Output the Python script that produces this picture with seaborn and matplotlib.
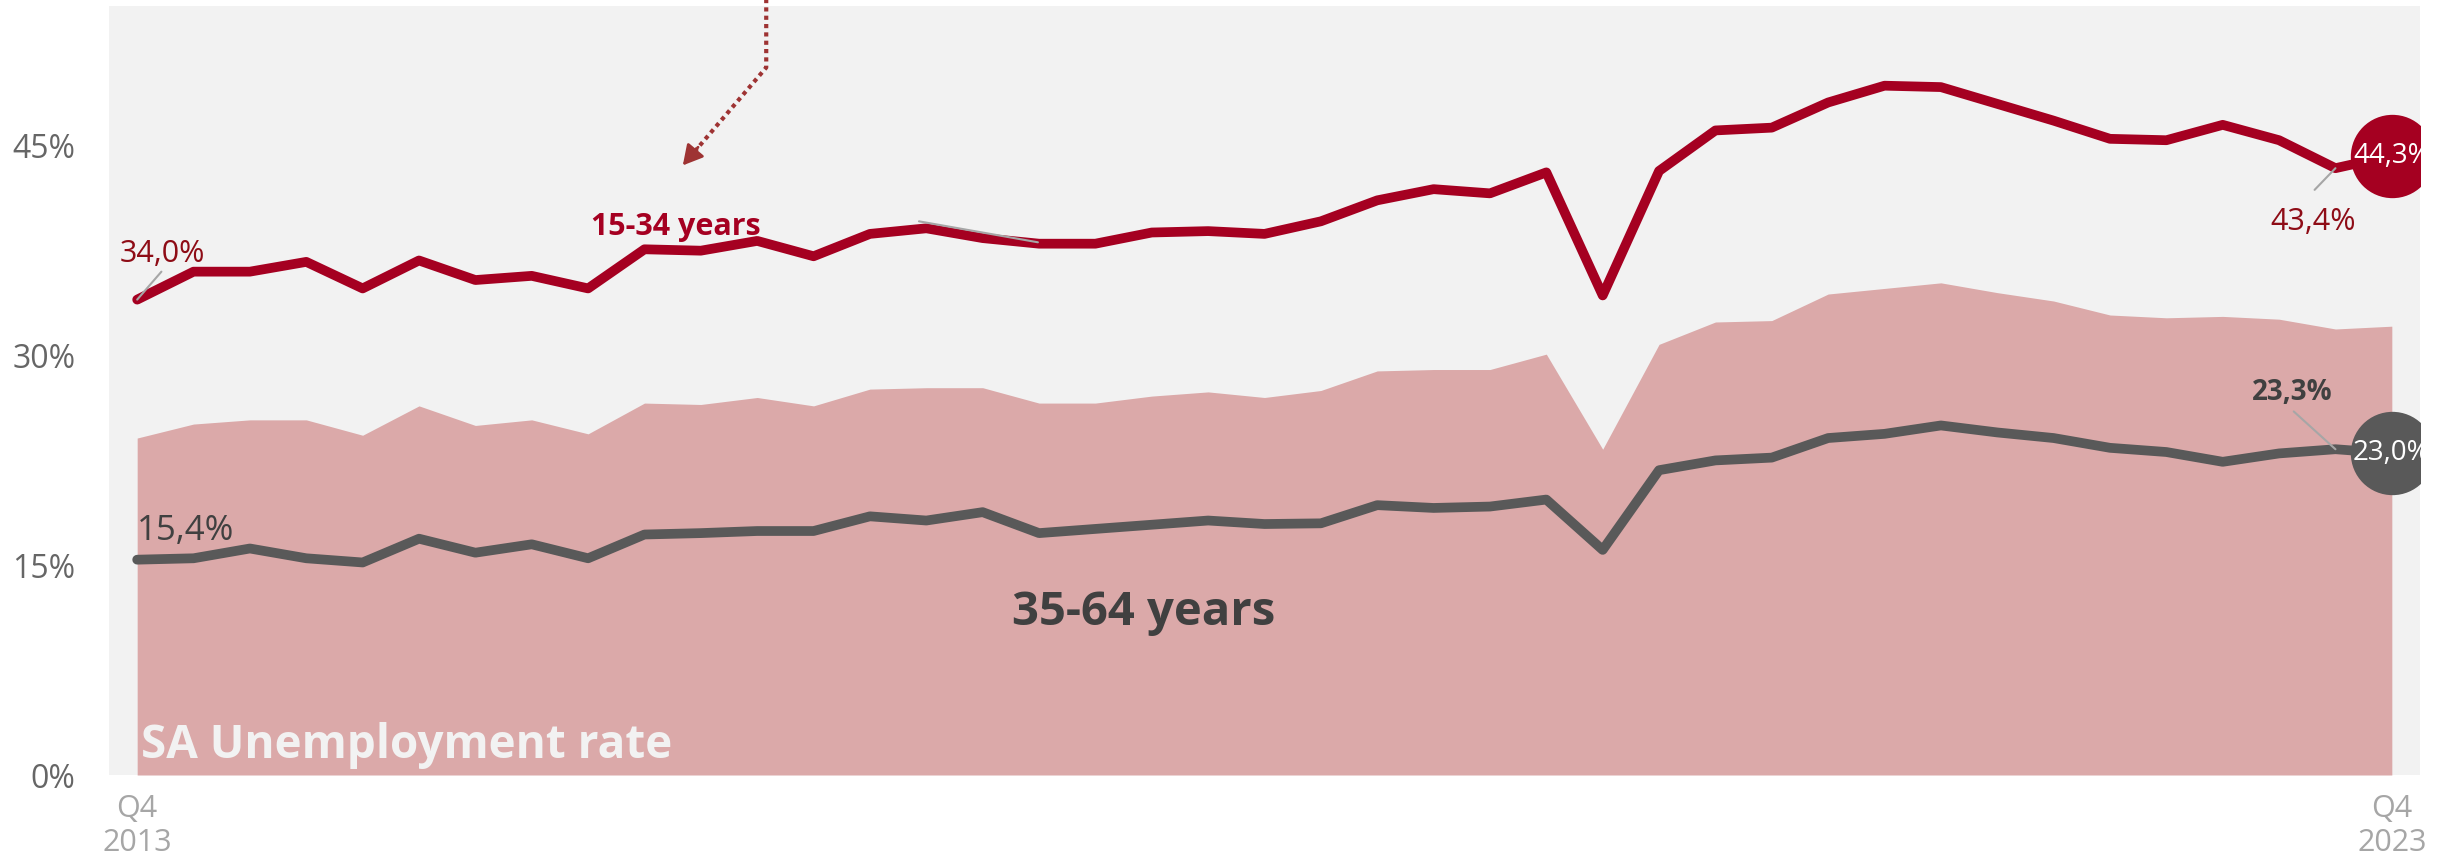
import pandas as pd
import matplotlib.pyplot as plt
import seaborn as sns

sns.set_theme(style="white")
plt.rcParams['font.family'] = ['Open Sans', 'DejaVu Sans']

# quarterly data, Q4 2013 .. Q4 2023
quarters = [str(p) for p in pd.period_range('2013Q4', '2023Q4', freq='Q')]

youth_15_34 = [34.0, 36.0, 36.0, 36.7, 34.8, 36.8, 35.4, 35.7, 34.8, 37.6,
               37.5, 38.2, 37.1, 38.7, 39.1, 38.4, 38.0, 38.0, 38.8, 38.9,
               38.7, 39.6, 41.1, 41.9, 41.6, 43.1, 34.3, 43.2, 46.1, 46.3,
               48.1, 49.3, 49.2, 48.0, 46.8, 45.5, 45.4, 46.5, 45.4, 43.4,
               44.3]

adults_35_64 = [15.4, 15.5, 16.2, 15.5, 15.2, 16.9, 15.9, 16.5, 15.5, 17.2,
                17.3, 17.45, 17.45, 18.5, 18.2, 18.8, 17.3, 17.6, 17.9, 18.2,
                17.95, 18.0, 19.3, 19.1, 19.2, 19.7, 16.1, 21.8, 22.5, 22.7,
                24.1, 24.4, 25.0, 24.5, 24.1, 23.4, 23.1, 22.4, 23.0, 23.3,
                23.0]

sa_total = [24.1, 25.1, 25.4, 25.4, 24.3, 26.4, 25.0, 25.4, 24.4, 26.6,
            26.5, 27.0, 26.4, 27.6, 27.7, 27.7, 26.6, 26.6, 27.1, 27.4,
            27.0, 27.5, 28.9, 29.0, 29.0, 30.1, 23.3, 30.8, 32.4, 32.5,
            34.4, 34.8, 35.2, 34.5, 33.9, 32.9, 32.7, 32.8, 32.6, 31.9,
            32.1]

y_ticks = [0, 15, 30, 45]
y_tick_labels = ['0%', '15%', '30%', '45%']
x_tick_labels = ['Q4\n2013', 'Q4\n2023']

RED = '#A50021'
DARK_RED = '#8E0C16'
GREY = '#595959'
AREA = '#DBA9A9'
BG = '#F2F2F2'
LEADER = '#A6A6A6'


def fmt(v):
    return f"{v:.1f}%".replace('.', ',')


df = pd.DataFrame({
    'quarter': quarters,
    'pos': range(len(quarters)),
    'youth': youth_15_34,
    'adults': adults_35_64,
    'total': sa_total,
})
last = df['pos'].iloc[-1]

fig = plt.figure(figsize=(24.53, 8.63), dpi=100)
ax = fig.add_axes([109 / 2453, 88 / 863, 2311 / 2453, 769 / 863])
ax.set_facecolor(BG)

# overall rate as area
ax.fill_between(df['pos'], 0, df['total'], color=AREA, linewidth=0, zorder=1)

# age group lines
sns.lineplot(data=df, x='pos', y='adults', color=GREY, linewidth=7,
             solid_capstyle='round', ax=ax, zorder=3)
sns.lineplot(data=df, x='pos', y='youth', color=RED, linewidth=7,
             solid_capstyle='round', ax=ax, zorder=4)

# end markers
ax.scatter([last], [df['youth'].iloc[-1]], s=3600, color=RED, zorder=6, linewidths=0)
ax.scatter([last], [df['adults'].iloc[-1]], s=3600, color=GREY, zorder=6, linewidths=0)
ax.text(last, df['youth'].iloc[-1], fmt(df['youth'].iloc[-1]), color='white',
        fontsize=20, ha='center', va='center', zorder=7)
ax.text(last, df['adults'].iloc[-1], fmt(df['adults'].iloc[-1]), color='white',
        fontsize=20, ha='center', va='center', zorder=7)

# data labels with leader lines
ax.plot([0.43, 0], [36.0, df['youth'].iloc[0]], color=LEADER, lw=1.5, zorder=5)
ax.text(-0.31, 36.7, fmt(df['youth'].iloc[0]), color=DARK_RED, fontsize=22,
        ha='left', va='baseline', zorder=7)
ax.text(0, 16.8, fmt(df['adults'].iloc[0]), color='#404040', fontsize=25,
        ha='left', va='baseline', zorder=7)

ax.plot([38.63, 39], [41.85, df['youth'].iloc[39]], color=LEADER, lw=1.5, zorder=5)
ax.text(38.61, 39.0, fmt(df['youth'].iloc[39]), color=DARK_RED, fontsize=22,
        ha='center', va='baseline', zorder=7)

ax.plot([38.26, 39], [26.0, df['adults'].iloc[39]], color=LEADER, lw=1.5, zorder=5)
ax.text(38.24, 26.8, fmt(df['adults'].iloc[39]), color='#404040', fontsize=20,
        fontweight='bold', ha='center', va='baseline', zorder=7)

# stray leader on the youth line
ax.plot([13.87, 15.98], [39.6, 38.1], color=LEADER, lw=1.5, zorder=5)

# series labels
ax.text(9.56, 38.6, '15-34 years', color=RED, fontsize=22, fontweight='bold',
        ha='center', va='baseline', zorder=7)
ax.text(17.85, 10.73, '35-64 years', color='#404040', fontsize=34, fontweight='bold',
        ha='center', va='baseline', zorder=7)
ax.text(0.07, 1.2, 'SA Unemployment rate', color=BG, fontsize=33, fontweight='bold',
        ha='left', va='baseline', zorder=7)

# dotted pointer from the top
ARROW = '#9E3333'
ax.plot([11.16, 11.16, 9.85], [55.6, 50.6, 44.4], color=ARROW, lw=3,
        linestyle=(0, (1, 1)), dash_capstyle='butt', clip_on=False, zorder=5)
ax.annotate('', xy=(9.68, 43.6), xytext=(9.95, 44.9),
            arrowprops=dict(arrowstyle='-|>,head_length=1.0,head_width=0.55',
                            color=ARROW, lw=2, shrinkA=0, shrinkB=0), zorder=5)

ax.set_xlim(-0.5, 40.5)
ax.set_ylim(0, 55)
ax.set_yticks(y_ticks)
ax.set_yticklabels(y_tick_labels)
ax.set_xticks([0, last])
ax.set_xticklabels(x_tick_labels)
ax.tick_params(axis='y', length=0, pad=24, labelsize=23, labelcolor='#666666')
ax.tick_params(axis='x', length=0, pad=14, labelsize=22, labelcolor='#A6A6A6')
for lab in ax.get_xticklabels():
    lab.set_linespacing(1.15)
ax.set_xlabel('')
ax.set_ylabel('')
sns.despine(ax=ax, left=True, bottom=True)
ax.grid(False)

fig.savefig('out.png', dpi=100)
print("saved out.png")
